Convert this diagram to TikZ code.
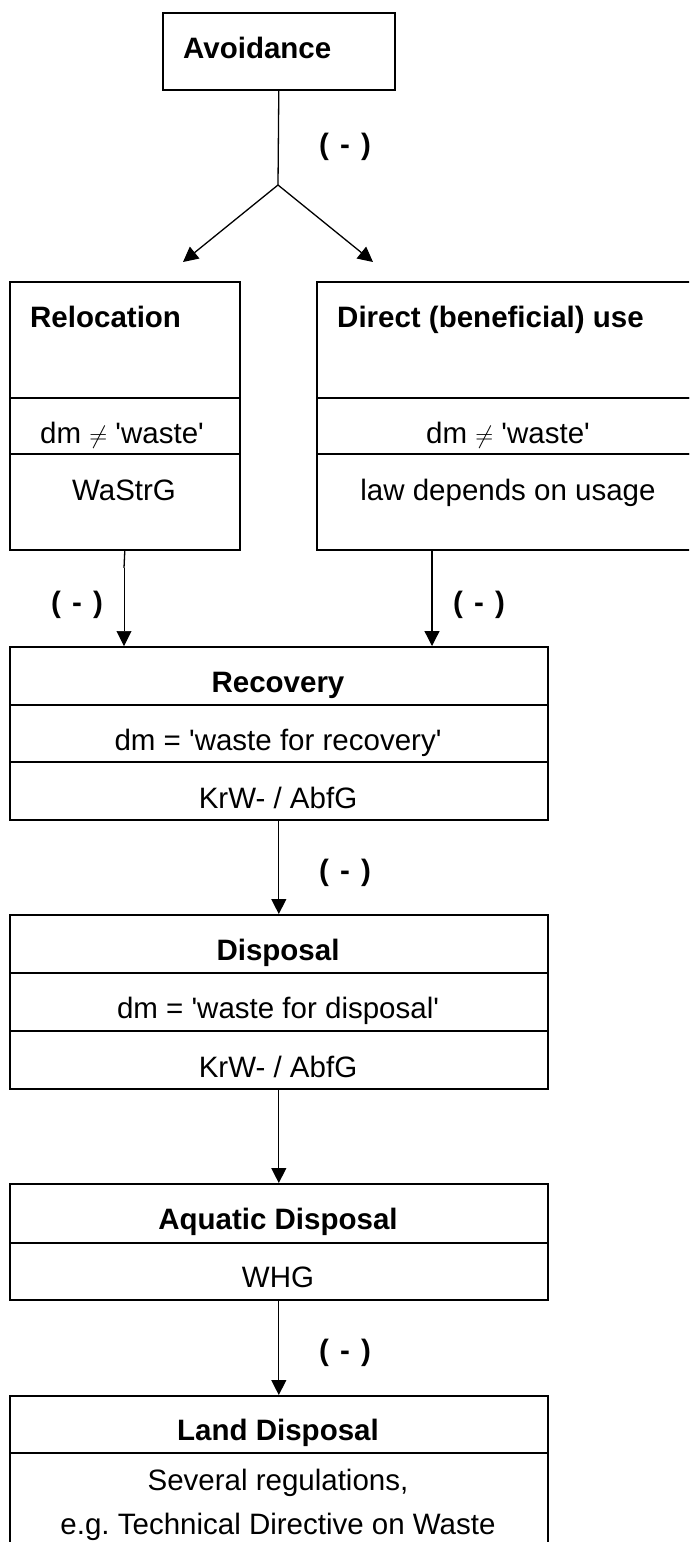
\documentclass[tikz,border=0pt]{standalone}
\usepackage{fontspec}
\setmainfont{Liberation Sans}[Ligatures=TeXOff]
\usetikzlibrary{arrows.meta}
\frenchspacing
\tikzset{
  sect/.style={draw=black, line width=1.6pt, inner sep=0pt, anchor=north west},
  txt/.style={inner sep=0pt, anchor=base, font=\fontsize{29.5}{34}\selectfont},
  ttl/.style={txt, font=\fontsize{29.5}{34}\selectfont\bfseries},
  sign/.style={inner sep=0pt, font=\fontsize{29.5}{34}\selectfont\bfseries},
  flow/.style={line width=1.3pt, -{Triangle[length=15pt,width=15pt]}},
  link/.style={line width=1.3pt},
}
\newcommand{\minus}{(\hspace{0.38em}-\hspace{0.38em})}
\begin{document}
\begin{tikzpicture}[x=1pt,y=-1pt]
\clip (0,0) rectangle (689,1542);
\fill[white] (0,0) rectangle (689,1542);

% top box
\node[sect, minimum width=232pt, minimum height=77pt] (avoid) at (162,12) {};
\node[ttl, anchor=base west] (tavoid) at (183,58) {Avoidance};

% relocation column
\node[sect, minimum width=230pt, minimum height=116pt] (relA) at (9,281) {};
\node[sect, minimum width=230pt, minimum height=56pt] (relB) at (9,397) {};
\node[sect, minimum width=230pt, minimum height=96pt] (relC) at (9,453) {};
\node[ttl, anchor=base west] (trelA) at (30,327) {Relocation};
\node[txt] (trelB) at (122,443) {dm $\neq$ 'waste'};
\node[txt] (trelC) at (124,500) {WaStrG};

% direct use column
\node[sect, minimum width=384pt, minimum height=116pt] (dirA) at (316,281) {};
\node[sect, minimum width=384pt, minimum height=56pt] (dirB) at (316,397) {};
\node[sect, minimum width=384pt, minimum height=96pt] (dirC) at (316,453) {};
\node[ttl, anchor=base west] (tdirA) at (337,327) {Direct (beneficial) use};
\node[txt] (tdirB) at (508,443) {dm $\neq$ 'waste'};
\node[txt] (tdirC) at (508,500) {law depends on usage};

% recovery
\node[sect, minimum width=538pt, minimum height=58pt] (recA) at (9,646) {};
\node[sect, minimum width=538pt, minimum height=57pt] (recB) at (9,704) {};
\node[sect, minimum width=538pt, minimum height=58pt] (recC) at (9,761) {};
\node[ttl] (trecA) at (278,692) {Recovery};
\node[txt] (trecB) at (278,750) {dm = 'waste for recovery'};
\node[txt] (trecC) at (278,808) {KrW- / AbfG};

% disposal
\node[sect, minimum width=538pt, minimum height=58pt] (disA) at (9,914) {};
\node[sect, minimum width=538pt, minimum height=58pt] (disB) at (9,972) {};
\node[sect, minimum width=538pt, minimum height=58pt] (disC) at (9,1030) {};
\node[ttl] (tdisA) at (278,960) {Disposal};
\node[txt] (tdisB) at (278,1018) {dm = 'waste for disposal'};
\node[txt] (tdisC) at (278,1077) {KrW- / AbfG};

% aquatic disposal
\node[sect, minimum width=538pt, minimum height=59pt] (aqA) at (9,1183) {};
\node[sect, minimum width=538pt, minimum height=57pt] (aqB) at (9,1242) {};
\node[ttl] (taqA) at (278,1229) {Aquatic Disposal};
\node[txt] (taqB) at (278,1287) {WHG};

% land disposal
\node[sect, minimum width=538pt, minimum height=57pt] (landA) at (9,1395) {};
\node[sect, minimum width=538pt, minimum height=130pt] (landB) at (9,1452) {};
\node[ttl] (tlandA) at (278,1440) {Land Disposal};
\node[txt] (tlandB) at (278,1490) {Several regulations,};
\node[txt] (tlandC) at (278,1534) {e.g. Technical Directive on Waste};

% connectors
\coordinate (fork) at (278,185);
\coordinate (tipL) at (183,262);
\coordinate (tipR) at (373,262);
\draw[link] (avoid.south) -- (fork);
\draw[flow] (fork) -- (tipL);
\draw[flow] (fork) -- (tipR);

\coordinate (stub) at (124,568);
\draw[line width=1.3pt] (relC.south) -- (stub);
\draw[line width=0.6pt, -{Triangle[length=15pt,width=15pt]}] (stub) -- (stub |- recA.north);

\coordinate (dirOut) at (432,549.8);
\draw[flow] (dirOut) -- (dirOut |- recA.north);

\draw[flow] (recC.south) -- (disA.north);
\draw[flow] (disC.south) -- (aqA.north);
\draw[flow] (aqB.south) -- (landA.north);

% branch labels
\node[sign] (s1) at (345,147) {\minus};
\node[sign] (s2) at (77,605) {\minus};
\node[sign] (s3) at (479,605) {\minus};
\node[sign] (s4) at (345,873) {\minus};
\node[sign] (s5) at (345,1353) {\minus};
\end{tikzpicture}
\end{document}
